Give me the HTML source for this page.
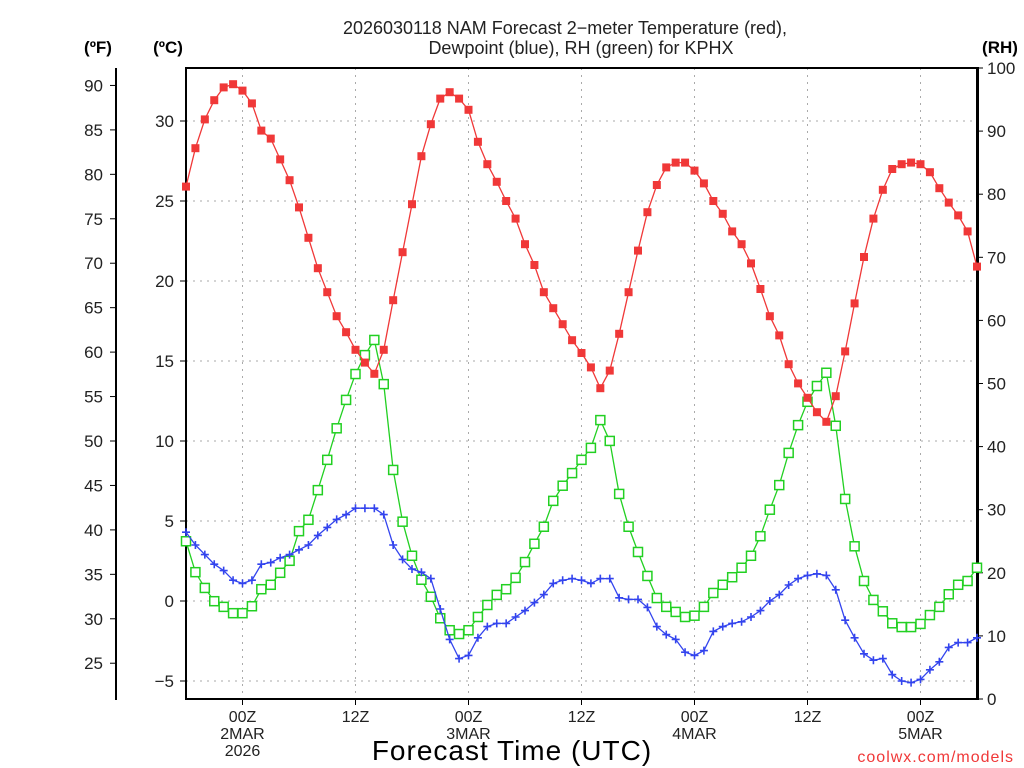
<!DOCTYPE html>
<html><head><meta charset="utf-8"><style>
html,body{margin:0;padding:0;background:#fff;width:1024px;height:768px;overflow:hidden}
svg{display:block;font-family:"Liberation Sans","DejaVu Sans",sans-serif}
</style></head><body>
<svg id="chart" width="1024" height="768" viewBox="0 0 1024 768"></svg>
<script>
const hours = Array.from({length:85},(_,i)=>i-6); // hours from 00Z 2MAR
const tempC = [25.9,28.3,30.1,31.3,32.1,32.3,31.9,31.1,29.4,28.9,27.6,26.3,24.6,22.7,20.8,19.3,17.8,16.8,15.7,14.9,14.2,15.7,18.8,21.8,24.8,27.8,29.8,31.4,31.8,31.4,30.7,28.7,27.3,26.2,25.0,23.9,22.3,21.0,19.3,18.3,17.3,16.3,15.5,14.6,13.3,14.4,16.7,19.3,21.9,24.3,26.0,27.1,27.4,27.4,26.9,26.1,25.0,24.2,23.1,22.3,21.1,19.5,17.8,16.6,14.8,13.6,12.7,11.8,11.2,12.8,15.6,18.6,21.5,23.9,25.7,27.0,27.3,27.4,27.3,26.8,25.8,24.9,24.1,23.1,20.9];
const dewC = [4.3,3.5,2.9,2.3,1.9,1.3,1.1,1.3,2.3,2.4,2.7,2.9,3.2,3.5,4.1,4.6,5.1,5.4,5.8,5.8,5.8,5.4,3.5,2.6,2.0,1.8,1.4,-0.5,-2.4,-3.6,-3.4,-2.3,-1.6,-1.4,-1.4,-1.0,-0.6,-0.1,0.4,1.1,1.3,1.4,1.3,1.1,1.4,1.4,0.2,0.1,0.1,-0.4,-1.6,-2.1,-2.4,-3.2,-3.4,-3.1,-1.9,-1.6,-1.4,-1.3,-1.0,-0.6,0.0,0.4,1.0,1.4,1.6,1.7,1.6,0.7,-1.2,-2.3,-3.3,-3.7,-3.6,-4.6,-5.0,-5.1,-4.9,-4.3,-3.8,-2.9,-2.6,-2.6,-2.3];
const rh = [25.0,20.1,17.6,15.5,14.6,13.6,13.6,14.7,17.4,18.1,20.0,21.9,26.6,28.4,33.1,37.9,42.9,47.4,51.5,54.5,56.9,49.9,36.3,28.1,22.7,18.9,16.2,12.8,10.9,10.3,10.9,13.0,14.9,16.5,17.4,19.2,21.7,24.6,27.3,31.4,33.8,35.8,37.9,39.8,44.2,40.9,32.5,27.3,23.3,19.5,16.0,14.6,13.8,13.0,13.2,14.6,16.8,18.1,19.3,20.8,22.7,25.8,30.0,33.9,39.0,43.4,47.1,49.6,51.7,43.3,31.7,24.2,18.7,15.7,13.9,12.0,11.4,11.4,11.9,13.3,14.6,16.6,18.1,18.7,20.8];
const cTicks = [-5,0,5,10,15,20,25,30];
const fTicks = [25,30,35,40,45,50,55,60,65,70,75,80,85,90];
const rhTicks = [0,10,20,30,40,50,60,70,80,90,100];
const xTickHours = [0,12,24,36,48,60,72];
const xTickLabels = [["00Z","2MAR","2026"],["12Z"],["00Z","3MAR"],["12Z"],["00Z","4MAR"],["12Z"],["00Z","5MAR"]];

const L=186,R=977,T=68,B=699;
const xs=h=>L+(h+6)*(R-L)/84;
const yC=c=>601-16*c;
const yF=f=>yC((f-32)*5/9);
const yRH=v=>B-v*(B-T)/100;
const NS="http://www.w3.org/2000/svg";
const svg=document.getElementById('chart');
function mk(tag,attrs,parent){const e=document.createElementNS(NS,tag);for(const k in attrs)e.setAttribute(k,attrs[k]);(parent||svg).appendChild(e);return e;}
function txt(x,y,s,o){const e=mk('text',Object.assign({x:x,y:y,'font-size':16,fill:'#222'},o||{}));e.textContent=s;return e;}

// gridlines
const grid=mk('g',{});


cTicks.forEach(c=>{mk('line',{x1:L,x2:R,y1:yC(c),y2:yC(c),stroke:'#aaa','stroke-dasharray':'2,5'},grid);});
xTickHours.forEach(h=>{mk('line',{x1:xs(h),x2:xs(h),y1:T,y2:B,stroke:'#aaa','stroke-dasharray':'2,5'},grid);});

// C axis ticks
const cax=mk('g',{});


cTicks.forEach(c=>{mk('line',{x1:L-6,x2:L,y1:yC(c),y2:yC(c),stroke:'#000'},cax);
 const t=txt(L-12,yC(c)+6,c<0?'−'+(-c):String(c),{'text-anchor':'end','font-size':17},cax);});
// F axis
const fax=mk('g',{});


mk('line',{x1:116,x2:116,y1:T,y2:B+1,stroke:'#000','stroke-width':2},fax);
fTicks.forEach(f=>{mk('line',{x1:110,x2:116,y1:yF(f),y2:yF(f),stroke:'#000'},fax);
 txt(103,yF(f)+6,String(f),{'text-anchor':'end','font-size':17},fax);});
// RH axis
const rax=mk('g',{});


rhTicks.forEach(v=>{mk('line',{x1:R,x2:R+6,y1:yRH(v),y2:yRH(v),stroke:'#000'},rax);
 txt(R+10,yRH(v)+6,String(v),{'font-size':17},rax);});
// x ticks
const xax=mk('g',{});


xTickHours.forEach((h,i)=>{mk('line',{x1:xs(h),x2:xs(h),y1:B,y2:B+6,stroke:'#000'},xax);
 xTickLabels[i].forEach((s,j)=>txt(xs(h),722+j*17,s,{'text-anchor':'middle','font-size':16},xax));});

// frame
const fr=mk('rect',{x:L,y:T,width:R-L,height:B-T,fill:'none',stroke:'#000','stroke-width':2});


mk('line',{x1:R+1,x2:R+1,y1:T-1,y2:B+1,stroke:'#000','stroke-width':2});

// series
function series(vals,yfn,color,marker,name){
 const g=mk('g',{});
 
 
 mk('polyline',{points:vals.map((v,i)=>xs(hours[i])+','+yfn(v)).join(' '),fill:'none',stroke:color,'stroke-width':1.3},g);
 vals.forEach((v,i)=>{const x=xs(hours[i]),y=yfn(v);let m;
  if(marker==='fill'){m=mk('rect',{x:x-4,y:y-4,width:8,height:8,fill:color},g);}
  else if(marker==='open'){m=mk('rect',{x:x-4.5,y:y-4.5,width:9,height:9,fill:'#fff',stroke:color,'stroke-width':1.5},g);}
  else {m=mk('path',{d:`M${x-4},${y}H${x+4}M${x},${y-4}V${y+4}`,stroke:color,'stroke-width':1.6},g);}
  
  
 });
}
series(rh,yRH,'#22d022','open','rh-series');
series(dewC,yC,'#3344ee','plus','dewpoint-series');
series(tempC,yC,'#f03838','fill','temperature-series');

// titles
const t1=txt(565,34,'2026030118 NAM Forecast 2−meter Temperature (red),',{'text-anchor':'middle','font-size':18});


const t2=txt(581,54,'Dewpoint (blue), RH (green) for KPHX',{'text-anchor':'middle','font-size':18});


const uf=txt(98,53,'(ºF)',{'text-anchor':'middle','font-size':17,'font-weight':'bold',fill:'#000'});


const uc=txt(168,53,'(ºC)',{'text-anchor':'middle','font-size':17,'font-weight':'bold',fill:'#000'});


const ur=txt(1000,53,'(RH)',{'text-anchor':'middle','font-size':17,'font-weight':'bold',fill:'#000'});


const xt=txt(512,760,'Forecast Time (UTC)',{'text-anchor':'middle','font-size':28,fill:'#000','letter-spacing':'1'});


const cr=txt(1014,762,'coolwx.com/models',{'text-anchor':'end','font-size':16,fill:'#f03838','letter-spacing':'1'});


</script>
</body></html>
